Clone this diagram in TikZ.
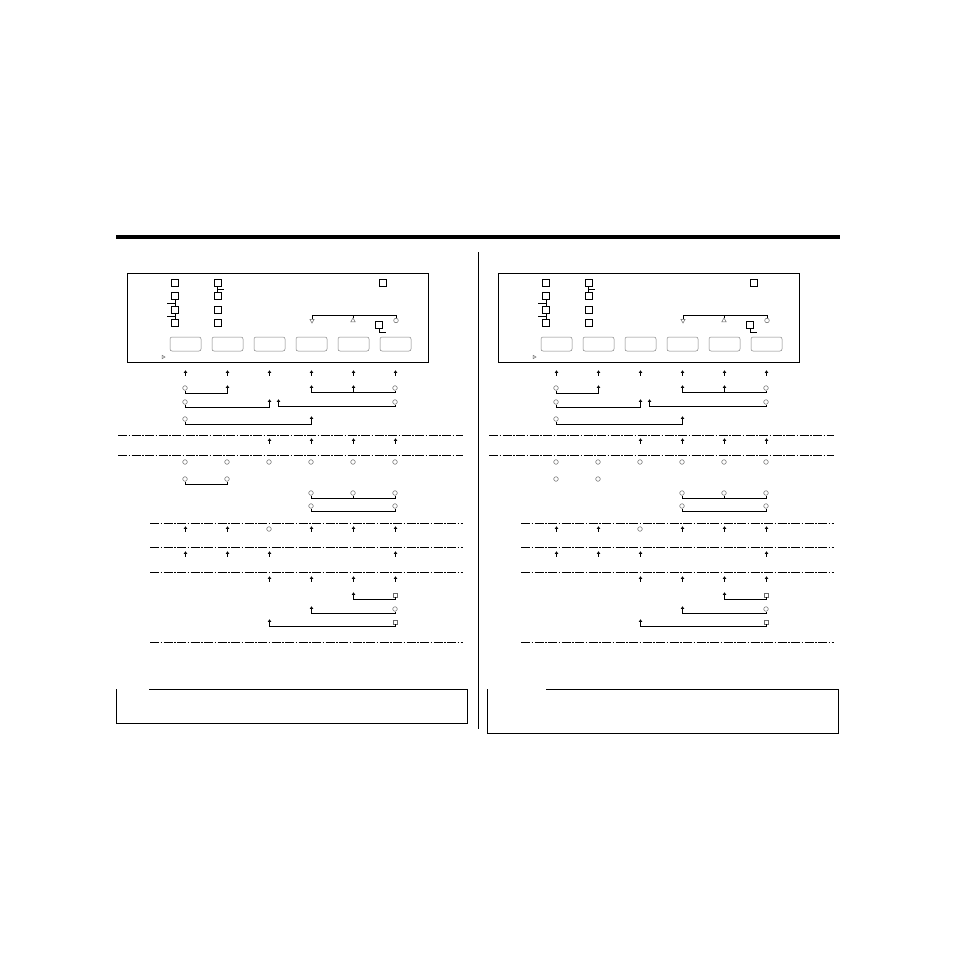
\documentclass[tikz,border=0pt]{standalone}
\usetikzlibrary{arrows.meta,shapes.geometric,calc}

\tikzset{
  key/.style={draw=gray, rounded corners=2pt, minimum width=31pt, minimum height=14pt, inner sep=0pt, line width=0.5pt},
  lamp/.style={draw, minimum size=7pt, inner sep=0pt, line width=0.7pt},
  hole/.style={circle, draw=black!60, minimum size=4.6pt, inner sep=0pt, line width=0.5pt},
  plug/.style={draw=black!60, minimum size=3.5pt, inner sep=0pt, line width=0.5pt},
  tri/.style={regular polygon, regular polygon sides=3, draw=black!60, minimum size=5pt, inner sep=0pt, line width=0.5pt},
  pinbox/.style={inner sep=0pt, minimum width=3pt, minimum height=5pt},
  pinarrow/.style={line width=0.6pt, -{Triangle[length=2.6pt,width=3.4pt]}},
  link/.style={line width=0.7pt},
  sepline/.style={line width=0.7pt, dash pattern=on 9pt off 1.5pt on 1.5pt off 1.5pt}
}
\newcommand{\pin}[3]{\node[pinbox] (#1) at (#2+0.5,#3) {}; \draw[pinarrow] (#1.south) -- (#1.north);}

% #1 bottom of note box, #2 start of its top line, #3 link in row G
\newcommand{\drawpanel}[3]{%
  \draw[line width=0.8pt] (127,273) rectangle (428,362);
  \foreach \y [count=\n] in {283,296,310,323} {
    \node[lamp] (s\n) at (175,\y) {};
    \node[lamp] (t\n) at (217.5,\y) {};
  }
  \node[lamp] (u) at (382.5,282.5) {};
  \draw[link] (s2.south) -- (s3.north) (s3.south) -- (s4.north) (t1.south) -- (t2.north);
  \draw[link] ($(s2.south)!0.5!(s3.north)$) -- ++(-8,0);
  \draw[link] ($(s3.south)!0.5!(s4.north)$) -- ++(-8,0);
  \draw[link] ($(t1.south)!0.5!(t2.north)$) -- ++(6,0);
  \node[tri, shape border rotate=180] (m1) at (312,320.5) {};
  \node[tri] (m2) at (353,320.5) {};
  \node[hole] (m3) at (396,320.5) {};
  \draw[link] (m1.north) -- ++(0,-3.5) coordinate (mm) -| (m3.north);
  \draw[link] (m2.north) -- (m2.north |- mm);
  \node[lamp] (v) at (379,325) {};
  \draw[link] (v.south) -- ++(0,3.5) -- ++(7,0);
  \foreach \i in {1,...,6}
    \node[key] (k\i) at ({143.5+42*\i},344) {};
  \node[tri, shape border rotate=-90, minimum size=4pt] (cur) at (163,357) {};
  % rows
  \foreach \i in {1,...,6} {\pin{a\i}{143+42*\i}{373}}
  \node[hole] (b1) at (185,388) {};
  \pin{b2}{227}{388}
  \pin{b4}{311}{388}
  \pin{b5}{353}{388}
  \node[hole] (b6) at (395,388) {};
  \draw[link] (b1.south) -- ++(0,2.5) -| (b2.south);
  \draw[link] (b4.south) -- ++(0,2) coordinate (bm) -| (b6.south);
  \draw[link] (b5.south) -- (b5.south |- bm);
  \node[hole] (c1) at (185,402) {};
  \pin{c3}{269}{402}
  \pin{c7}{278}{402}
  \node[hole] (c6) at (395,402) {};
  \draw[link] (c1.south) -- ++(0,2.5) -| (c3.south);
  \draw[link] (c7.south) -- ++(0,2) -| (c6.south);
  \node[hole] (d1) at (185,419) {};
  \pin{d4}{311}{419}
  \draw[link] (d1.south) -- ++(0,2.5) -| (d4.south);
  \draw[sepline] (118,435) -- (463,435);
  \foreach \i in {3,...,6} {\pin{e\i}{143+42*\i}{441}}
  \draw[sepline] (118,455) -- (463,455);
  \foreach \i in {1,...,6}
    \node[hole] (f\i) at ({143+42*\i},462) {};
  \node[hole] (g1) at (185,479) {};
  \node[hole] (g2) at (227,479) {};
  \ifnum#3=1 \draw[link] (g1.south) -- ++(0,2.5) -| (g2.south); \fi
  \foreach \i in {4,5,6}
    \node[hole] (h\i) at ({143+42*\i},493) {};
  \draw[link] (h4.south) -- ++(0,2.5) coordinate (hm) -| (h6.south);
  \draw[link] (h5.south) -- (h5.south |- hm);
  \node[hole] (i4) at (311,506) {};
  \node[hole] (i6) at (395,506) {};
  \draw[link] (i4.south) -- ++(0,2.5) -| (i6.south);
  \draw[sepline] (150,523) -- (463,523);
  \foreach \i in {1,2,4,5,6} {\pin{j\i}{143+42*\i}{529}}
  \node[hole] (j3) at (269,529) {};
  \draw[sepline] (150,547) -- (463,547);
  \foreach \i in {1,2,3,6} {\pin{k\i}{143+42*\i}{554}}
  \draw[sepline] (150,572) -- (463,572);
  \foreach \i in {3,...,6} {\pin{l\i}{143+42*\i}{579}}
  \pin{n5}{353}{595}
  \node[plug] (n6) at (395,595) {};
  \draw[link] (n5.south) -- ++(0,2) -| (n6.south);
  \pin{o4}{311}{609}
  \node[hole] (o6) at (395,609) {};
  \draw[link] (o4.south) -- ++(0,2) -| (o6.south);
  \pin{p3}{269}{622}
  \node[plug] (p6) at (395,622) {};
  \draw[link] (p3.south) -- ++(0,2) -| (p6.south);
  \draw[sepline] (150,642) -- (463,642);
  % note box
  \draw[line width=0.8pt] (#2,689) -- (467,689) -- (467,#1) -- (116,#1) -- (116,689);
}

\begin{document}
\begin{tikzpicture}[x=1pt, y=-1pt]
  \useasboundingbox (0,0) rectangle (954,954);
  \draw[line width=3.5pt] (116,237) -- (840,237);
  \draw[line width=0.8pt] (478,252) -- (478,729);
  \begin{scope}[name prefix=L-]
    \drawpanel{723}{149}{1}
  \end{scope}
  \begin{scope}[xshift=371pt, name prefix=R-]
    \drawpanel{733}{175}{0}
  \end{scope}
\end{tikzpicture}
\end{document}
